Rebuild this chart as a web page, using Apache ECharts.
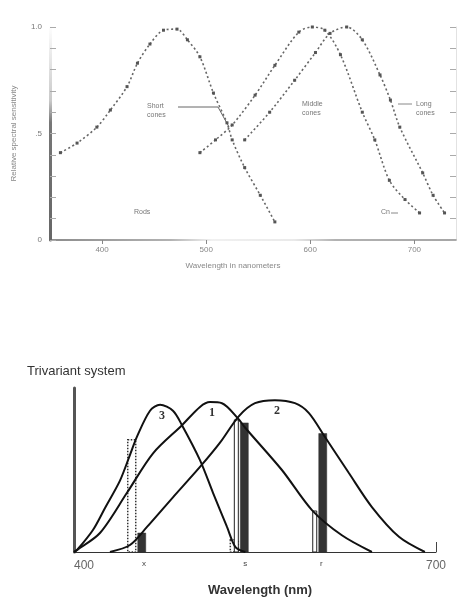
<!DOCTYPE html>
<html>
<head>
<meta charset="utf-8">
<script src="https://cdn.jsdelivr.net/npm/echarts@6/dist/echarts.min.js"></script>
<style>
  html, body { margin: 0; padding: 0; background: #fff; }
  #chart { width: 464px; height: 604px; }
</style>
</head>
<body>
<div id="chart"></div>
<script>
// ---- Upper panel: cone spectral sensitivities (wavelength in nm, relative sensitivity) ----
const shortConeWl   = [360, 376, 395, 408, 424, 434, 446, 459, 472, 482, 494, 507, 520, 525, 537, 552, 566];
const shortConeSens = [0.41, 0.455, 0.53, 0.61, 0.72, 0.83, 0.92, 0.985, 0.99, 0.94, 0.86, 0.69, 0.55, 0.47, 0.34, 0.21, 0.085];

const middleConeWl   = [494, 509, 525, 547, 566, 589, 602, 614, 629, 650, 662, 676, 691, 705];
const middleConeSens = [0.41, 0.47, 0.54, 0.68, 0.82, 0.976, 1.0, 0.985, 0.87, 0.60, 0.47, 0.28, 0.19, 0.127];

const longConeWl   = [537, 561, 585, 605, 619, 635, 650, 667, 677, 686, 708, 718, 729];
const longConeSens = [0.47, 0.60, 0.75, 0.88, 0.97, 1.0, 0.94, 0.775, 0.657, 0.53, 0.315, 0.21, 0.127];

const upperTickLabels = { 400: '400', 500: '500', 600: '600', 700: '700' };
const upperYLabels = { 0: '0', 0.5: '.5', 1: '1.0' };

// ---- Lower panel: trivariant system, three receptor curves ----
const receptor3Wl   = [400, 402.5, 415.7, 425.7, 438.1, 446.4, 452.2, 463, 471.3, 482, 489.5, 504.4, 515.2, 526.8, 534, 542];
const receptor3Resp = [0, 0.013, 0.145, 0.29, 0.47, 0.64, 0.76, 0.93, 0.97, 0.93, 0.835, 0.605, 0.39, 0.165, 0.03, 0];

const receptor1Wl   = [400, 402.5, 421.5, 443.9, 465.5, 489.5, 504.4, 512.7, 522.6, 535.9, 541.7, 572.3, 597.2, 622, 646.9];
const receptor1Resp = [0, 0.013, 0.125, 0.39, 0.65, 0.835, 0.955, 0.987, 0.98, 0.88, 0.82, 0.54, 0.276, 0.11, 0];

const receptor2Wl   = [429.8, 446.4, 460.5, 482, 504.4, 521, 536.7, 550, 566.5, 583.1, 594.7, 608, 627.8, 646.9, 669.3, 690.8];
const receptor2Resp = [0, 0.046, 0.165, 0.36, 0.56, 0.72, 0.895, 0.98, 1.0, 0.98, 0.915, 0.757, 0.52, 0.296, 0.1, 0];

// Response of each receptor at the three test wavelengths
const stimulusWl = [452, 537, 602];
const stim3Resp  = [0.74, 0.08, null];
const stim1Resp  = [null, 0.87, 0.27];
const stim2Resp  = [0.125, 0.85, 0.78];

const lowerTickLabels = { 400: '400', 458: 'x', 542: 's', 605: 'r', 700: '700' };

function pairs(xs, ys) { return xs.map((x, i) => [x, ys[i]]); }

function peakOf(xs, ys) {
  let k = 0;
  ys.forEach((v, i) => { if (v > ys[k]) k = i; });
  return [xs[k], ys[k]];
}

const chart = echarts.init(document.getElementById('chart'), null, { renderer: 'canvas' });

const dotted = {
  type: 'line',
  xAxisIndex: 0, yAxisIndex: 0,
  smooth: 0.3,
  symbol: 'rect', symbolSize: 3, showSymbol: true,
  itemStyle: { color: '#555' },
  lineStyle: { color: '#666', width: 1.6, type: [2, 2.5] },
  silent: true, z: 3
};

const solid = {
  type: 'line',
  xAxisIndex: 1, yAxisIndex: 2,
  smooth: 0.3,
  showSymbol: false,
  lineStyle: { color: '#111', width: 2 },
  silent: true, z: 5
};

function numberMark(xs, ys, label) {
  return {
    symbol: 'rect', symbolSize: 1,
    itemStyle: { color: 'rgba(0,0,0,0)' },
    label: {
      show: true, position: 'inside', offset: [2, 11],
      formatter: label, fontFamily: 'Liberation Serif', fontSize: 12, fontWeight: 'bold', color: '#333'
    },
    data: [{ coord: peakOf(xs, ys) }]
  };
}

// bar data: [wavelength, response, receptor]
const barData = [];
stimulusWl.forEach((w, i) => { if (stim3Resp[i] != null) barData.push([w, stim3Resp[i], 3]); });
stimulusWl.forEach((w, i) => { if (stim1Resp[i] != null) barData.push([w, stim1Resp[i], 1]); });
stimulusWl.forEach((w, i) => { if (stim2Resp[i] != null) barData.push([w, stim2Resp[i], 2]); });

const barSlots = { 3: [-9, -1], 1: [-5, -1], 2: [1, 9] };
const barStyles = {
  3: { fill: '#fff', stroke: '#333', lineWidth: 1.5, lineDash: [1.5, 1.5] },
  1: { fill: '#fff', stroke: '#222', lineWidth: 1 },
  2: { fill: '#333', stroke: '#333', lineWidth: 0.5 }
};

const option = {
  backgroundColor: '#fff',
  animation: false,
  grid: [
    { left: 50, right: 8, top: 27, height: 213 },
    { left: 74, right: 28, top: 388, bottom: 52 }
  ],
  xAxis: [
    {
      gridIndex: 0, type: 'value', min: 350, max: 740,
      splitLine: { show: false },
      axisLine: {
        lineStyle: {
          width: 1.5,
          color: new echarts.graphic.LinearGradient(0, 0, 1, 0, [
            { offset: 0, color: '#666' },
            { offset: 0.3, color: '#999' },
            { offset: 0.4, color: 'rgba(160,160,160,0.2)' },
            { offset: 0.6, color: 'rgba(160,160,160,0.3)' },
            { offset: 0.7, color: '#999' },
            { offset: 1, color: '#888' }
          ])
        }
      },
      axisTick: { customValues: [400, 500, 600, 700], length: 4, lineStyle: { color: '#888' } },
      axisLabel: {
        customValues: [400, 500, 600, 700],
        formatter: v => upperTickLabels[v] || '',
        fontSize: 8, color: '#888', fontFamily: 'Liberation Sans', margin: 6
      },
      name: 'Wavelength in nanometers',
      nameLocation: 'middle', nameGap: 22,
      nameTextStyle: { fontSize: 8, color: '#888', fontFamily: 'Liberation Sans', padding: [0, 0, 0, -40] }
    },
    {
      gridIndex: 1, type: 'value', min: 400, max: 700,
      splitLine: { show: false },
      axisLine: { lineStyle: { color: '#333', width: 1 } },
      axisTick: { customValues: [700], inside: true, length: 10, lineStyle: { color: '#444' } },
      axisLabel: {
        customValues: [400, 458, 542, 605, 700],
        formatter: v => (v === 400 || v === 700) ? lowerTickLabels[v] : '{s|' + lowerTickLabels[v] + '}',
        rich: { s: { fontSize: 8, color: '#444', fontFamily: 'Liberation Sans' } },
        alignMinLabel: 'left',
        fontSize: 12, color: '#666', fontFamily: 'Liberation Sans', margin: 8
      },
      name: 'Wavelength (nm)',
      nameLocation: 'middle', nameGap: 32,
      nameTextStyle: { fontSize: 13, fontWeight: 'bold', color: '#333', fontFamily: 'Liberation Sans', padding: [0, 0, 0, 10] }
    }
  ],
  yAxis: [
    {
      gridIndex: 0, type: 'value', min: 0, max: 1, interval: 0.1,
      splitLine: { show: false },
      axisLine: {
        show: true,
        lineStyle: {
          width: 3,
          color: new echarts.graphic.LinearGradient(0, 0, 0, 1, [
            { offset: 0, color: 'rgba(120,120,120,0)' },
            { offset: 0.35, color: 'rgba(120,120,120,0.4)' },
            { offset: 0.45, color: '#777' },
            { offset: 1, color: '#666' }
          ])
        }
      },
      axisTick: { show: true, inside: true, length: 6, lineStyle: { color: '#aaa' } },
      axisLabel: {
        formatter: v => upperYLabels[Math.round(v * 10) / 10] || '',
        fontSize: 8, color: '#777', fontFamily: 'Liberation Sans', margin: 8
      },
      name: 'Relative spectral sensitivity',
      nameLocation: 'middle', nameRotate: 90, nameGap: 32,
      nameTextStyle: { fontSize: 8, color: '#888', fontFamily: 'Liberation Sans' }
    },
    {
      gridIndex: 0, type: 'value', min: 0, max: 1, interval: 0.1, position: 'right',
      splitLine: { show: false },
      axisLine: { show: true, lineStyle: { color: '#e2e2e2', width: 1 } },
      axisTick: { show: true, inside: true, length: 6, lineStyle: { color: '#aaa' } },
      axisLabel: { show: false }
    },
    {
      gridIndex: 1, type: 'value', min: 0, max: 1.08,
      splitLine: { show: false },
      axisLine: { show: true, lineStyle: { color: '#555', width: 3 } },
      axisTick: { show: false },
      axisLabel: { show: false }
    }
  ],
  title: {
    text: 'Trivariant system',
    left: 22, top: 360,
    textStyle: { fontSize: 13, fontWeight: 'normal', color: '#333', fontFamily: 'Liberation Sans' }
  },
  series: [
    Object.assign({}, dotted, { name: 'Short cones', data: pairs(shortConeWl, shortConeSens) }),
    Object.assign({}, dotted, { name: 'Middle cones', data: pairs(middleConeWl, middleConeSens) }),
    Object.assign({}, dotted, { name: 'Long cones', data: pairs(longConeWl, longConeSens) }),
    {
      type: 'custom',
      xAxisIndex: 1, yAxisIndex: 2,
      silent: true, z: 4,
      data: barData,
      renderItem: function (params, api) {
        const w = api.value(0), v = api.value(1), r = api.value(2);
        const top = api.coord([w, v]);
        const base = api.coord([w, 0]);
        const slot = barSlots[r];
        return {
          type: 'rect',
          shape: { x: top[0] + slot[0], y: top[1], width: slot[1] - slot[0], height: base[1] - top[1] },
          style: barStyles[r]
        };
      }
    },
    Object.assign({}, solid, { name: '3', data: pairs(receptor3Wl, receptor3Resp), markPoint: numberMark(receptor3Wl, receptor3Resp, '3') }),
    Object.assign({}, solid, { name: '1', data: pairs(receptor1Wl, receptor1Resp), markPoint: numberMark(receptor1Wl, receptor1Resp, '1') }),
    Object.assign({}, solid, { name: '2', data: pairs(receptor2Wl, receptor2Resp), markPoint: numberMark(receptor2Wl, receptor2Resp, '2') })
  ],
  graphic: [
    { type: 'text', left: 147, top: 102, style: { text: 'Short\ncones', fontSize: 7, lineHeight: 9, fill: '#777', fontFamily: 'Liberation Sans' } },
    { type: 'polyline', shape: { points: [[178, 107], [218, 107], [229, 127]] }, style: { stroke: '#666', lineWidth: 1, fill: null } },
    { type: 'text', left: 302, top: 100, style: { text: 'Middle\ncones', fontSize: 7, lineHeight: 9, fill: '#777', fontFamily: 'Liberation Sans' } },
    { type: 'text', left: 416, top: 100, style: { text: 'Long\ncones', fontSize: 7, lineHeight: 9, fill: '#777', fontFamily: 'Liberation Sans' } },
    { type: 'line', shape: { x1: 398, y1: 104, x2: 412, y2: 104 }, style: { stroke: '#888', lineWidth: 1 } },
    { type: 'text', left: 134, top: 209, style: { text: 'Rods', fontSize: 7, fill: '#777', fontFamily: 'Liberation Sans' } },
    { type: 'text', left: 381, top: 209, style: { text: 'Cn', fontSize: 7, fill: '#777', fontFamily: 'Liberation Sans' } },
    { type: 'line', shape: { x1: 391, y1: 213, x2: 398, y2: 213 }, style: { stroke: '#888', lineWidth: 1 } }
  ]
};

chart.setOption(option);
</script>
</body>
</html>
